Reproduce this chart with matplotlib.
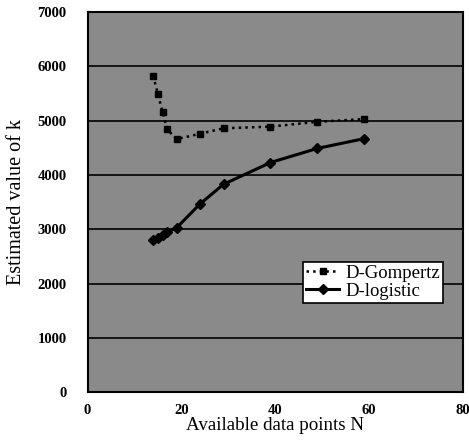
import matplotlib.pyplot as plt

# values
n_gompertz = [14, 15, 16, 17, 19, 24, 29, 39, 49, 59]
k_gompertz = [5830, 5490, 5160, 4840, 4660, 4760, 4860, 4890, 4980, 5030]

n_logistic = [14, 15, 16, 17, 19, 24, 29, 39, 49, 59]
k_logistic = [2810, 2850, 2900, 2950, 3030, 3470, 3830, 4230, 4490, 4670]

x_ticks = [0, 20, 40, 60, 80]
y_ticks = [0, 1000, 2000, 3000, 4000, 5000, 6000, 7000]

plt.rcParams['font.family'] = ['Liberation Serif', 'DejaVu Serif']

fig = plt.figure(figsize=(4.69, 4.43), dpi=100)
ax = fig.add_axes([0.1866, 0.114, 0.8, 0.859])
ax.set_facecolor('#8a8a8a')

ax.plot(n_gompertz, k_gompertz, color='black', linestyle=':', linewidth=1.8,
        marker='s', markersize=4, label='D-Gompertz')
ax.plot(n_logistic, k_logistic, color='black', linestyle='-', linewidth=2.2,
        marker='D', markersize=5, label='D-logistic')

ax.set_xlim(0, 80)
ax.set_ylim(0, 7000)
ax.set_xticks(x_ticks)
ax.set_yticks(y_ticks)
ax.yaxis.grid(True, color='black', linewidth=1.2)
ax.set_axisbelow(True)
for s in ax.spines.values():
    s.set_linewidth(1.5)

ax.tick_params(length=0)
ax.tick_params(axis='y', pad=15)
ax.tick_params(axis='x', pad=8)
for lab in ax.get_xticklabels() + ax.get_yticklabels():
    lab.set_fontweight('bold')
    lab.set_fontsize(10.5)

ax.set_xlabel('Available data points N', fontsize=13.7, labelpad=0)
ax.set_ylabel('Estimated value of k', fontsize=14.5, labelpad=8)

leg = ax.legend(loc='upper left', bbox_to_anchor=(0.574, 0.343), fontsize=13.5,
                fancybox=False, framealpha=1, edgecolor='black',
                borderpad=0.15, handlelength=1.8, handletextpad=0.3,
                labelspacing=0.05, borderaxespad=0)
leg.get_frame().set_linewidth(1.2)

fig.savefig('out.png', dpi=100)
